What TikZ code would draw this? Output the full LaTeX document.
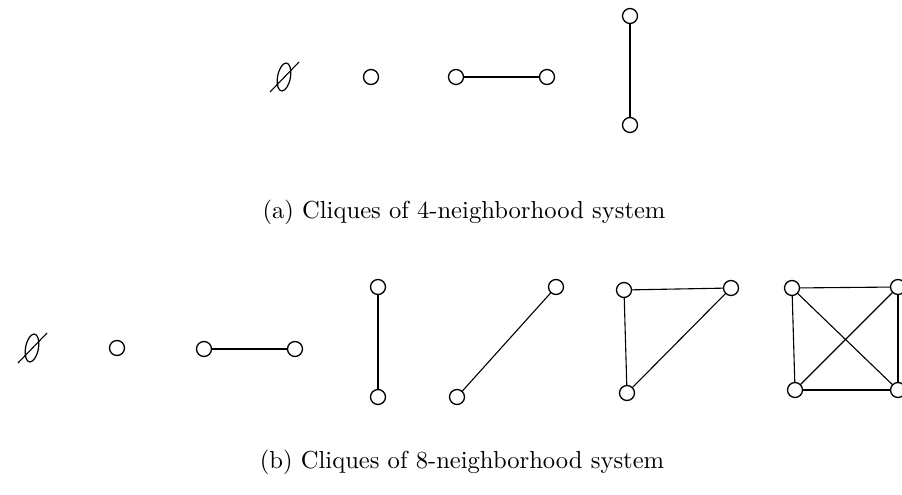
\documentclass[tikz,border=0pt]{standalone}
\begin{document}
\begin{tikzpicture}[x=1pt,y=-1pt,
  vert/.style={circle,draw,line width=1.3pt,minimum size=15pt,inner sep=0pt},
  edge/.style={line width=1.1pt},
  emptyset/.style={line width=1.2pt,xslant=0.15},
  captext/.style={scale=2.46,inner sep=0pt}]
\useasboundingbox (0,0) rectangle (902,495);
% empty set symbols
\draw[shift={(284,77)},emptyset] (0,0) ellipse [x radius=6.5pt,y radius=14pt];
\draw[edge] (270,92) -- (299,62);
\draw[shift={(32,348)},emptyset] (0,0) ellipse [x radius=6.5pt,y radius=14pt];
\draw[edge] (18,363) -- (47,333);
% row (a)
\node[vert] (a1) at (371,77) {};
\node[vert] (a2) at (456,77) {};
\node[vert] (a3) at (547,77) {};
\node[vert] (a4) at (630,16) {};
\node[vert] (a5) at (630,125) {};
\draw[edge] (a2) -- (a3);
\draw[edge] (a4) -- (a5);
\node[captext] (ca) at (464,212) {(a) Cliques of 4-neighborhood system};
% row (b)
\node[vert] (b1) at (117,348) {};
\node[vert] (b2) at (204,349) {};
\node[vert] (b3) at (295,349) {};
\node[vert] (b4) at (378,287) {};
\node[vert] (b5) at (378,397) {};
\node[vert] (b6) at (556,287) {};
\node[vert] (b7) at (457,397) {};
\node[vert] (t1) at (624,290) {};
\node[vert] (t2) at (731,288) {};
\node[vert] (t3) at (627,393) {};
\node[vert] (s1) at (792,288) {};
\node[vert] (s2) at (898,287) {};
\node[vert] (s3) at (795,390) {};
\node[vert] (s4) at (898,390) {};
\draw[edge] (b2) -- (b3);
\draw[edge] (b4) -- (b5);
\draw[edge] (b6) -- (b7);
\draw[edge] (t1) -- (t2);
\draw[edge] (t1) -- (t3);
\draw[edge] (t2) -- (t3);
\draw[edge] (s1) -- (s2);
\draw[edge] (s1) -- (s3);
\draw[edge] (s2) -- (s4);
\draw[edge] (s3) -- (s4);
\draw[edge] (s1) -- (s4);
\draw[edge] (s2) -- (s3);
\node[captext] (cb) at (462,462) {(b) Cliques of 8-neighborhood system};
\end{tikzpicture}
\end{document}
